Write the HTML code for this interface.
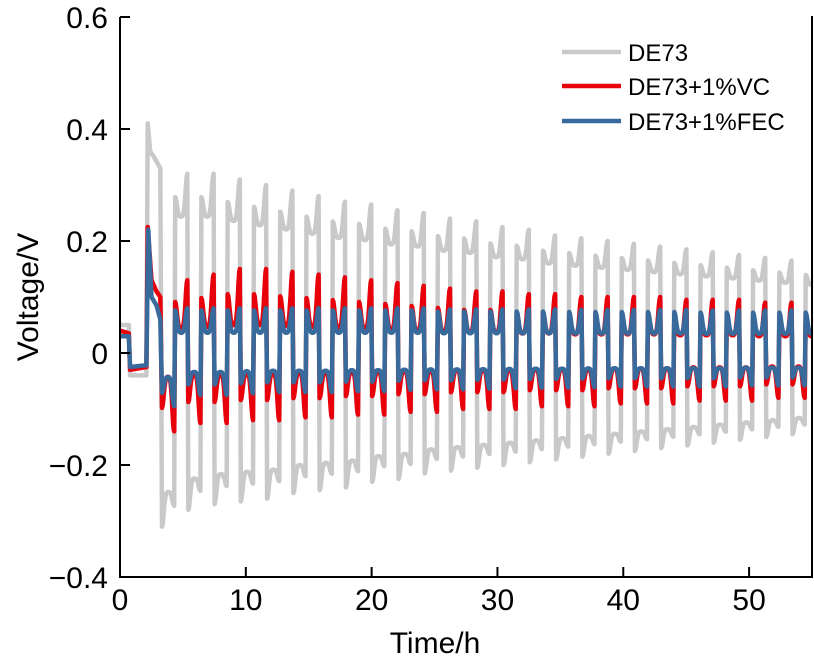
<!DOCTYPE html>
<html><head><meta charset="utf-8"><style>
body{margin:0;background:#fff;}
svg text{font-family:"Liberation Sans",Arial,sans-serif;fill:#000;}
</style></head><body>
<svg id="chart" width="814" height="662" viewBox="0 0 814 662" xmlns="http://www.w3.org/2000/svg">
<g id="series"></g>
<g id="axes"></g>
<g id="legend"></g>
</svg>
<script>
// ---- data ----
const xTicks = [0, 10, 20, 30, 40, 50];
const yTicks = [-0.4, -0.2, 0, 0.2, 0.4, 0.6];
const yTickLabels = ["\u22120.4", "\u22120.2", "0", "0.2", "0.4", "0.6"];
const seriesNames = ["DE73", "DE73+1%VC", "DE73+1%FEC"];
// pre-cycling segment: [time, voltage]
const preGray = [[0,0.05],[0.7,0.05],[0.8,-0.04],[2.1,-0.04],[2.2,0.41],[2.4,0.36],[2.7,0.35],[3.2,0.33]];
const preRed = [[0,0.04],[0.7,0.035],[0.8,-0.03],[2.1,-0.025],[2.2,0.225],[2.5,0.13],[2.9,0.11],[3.2,0.1]];
const preBlue = [[0,0.03],[0.7,0.03],[0.8,-0.025],[2.1,-0.022],[2.25,0.22],[2.5,0.1],[2.9,0.085],[3.2,0.06]];
const cycleStart = 3.3;
const cyclePeriod = 2.088;
// per-cycle peak voltages (negative half first, then positive half)
const grayPos = [0.32,0.32,0.31,0.30,0.29,0.28,0.27,0.265,0.255,0.25,0.24,0.235,0.225,0.22,0.21,0.205,0.2,0.195,0.19,0.185,0.18,0.175,0.17,0.165,0.16];
const grayNeg = [-0.31,-0.28,-0.27,-0.265,-0.26,-0.25,-0.245,-0.24,-0.23,-0.225,-0.215,-0.21,-0.205,-0.2,-0.195,-0.19,-0.185,-0.18,-0.175,-0.17,-0.165,-0.16,-0.155,-0.15,-0.145];
const redPos = [0.13,0.14,0.15,0.15,0.145,0.14,0.135,0.13,0.125,0.12,0.115,0.11,0.11,0.105,0.105,0.1,0.1,0.1,0.1,0.095,0.095,0.095,0.09,0.09,0.09];
const redNeg = [-0.14,-0.125,-0.125,-0.12,-0.12,-0.115,-0.115,-0.11,-0.11,-0.105,-0.105,-0.1,-0.1,-0.1,-0.095,-0.095,-0.095,-0.09,-0.09,-0.09,-0.085,-0.085,-0.085,-0.08,-0.08];
const bluePos = [0.08,0.08,0.08,0.08,0.08,0.08,0.08,0.08,0.08,0.08,0.078,0.078,0.078,0.078,0.078,0.077,0.077,0.077,0.077,0.077,0.076,0.076,0.076,0.076,0.076];
const blueNeg = [-0.095,-0.075,-0.075,-0.072,-0.07,-0.07,-0.07,-0.068,-0.068,-0.066,-0.065,-0.065,-0.064,-0.063,-0.062,-0.062,-0.061,-0.06,-0.06,-0.06,-0.06,-0.06,-0.058,-0.058,-0.058];

// ---- layout ----
const X0=120, X1=812, Y0=577, Y1=17;
const xMin=0,xMax=55,yMin=-0.4,yMax=0.6;
const sx=t=>X0+(t-xMin)/(xMax-xMin)*(X1-X0);
const sy=v=>Y0-(v-yMin)/(yMax-yMin)*(Y0-Y1);
const NS="http://www.w3.org/2000/svg";
function mk(tag,attrs,parent){const e=document.createElementNS(NS,tag);for(const k in attrs)e.setAttribute(k,attrs[k]);parent.appendChild(e);return e;}

const shapes = {
  gray:{neg:[1,0.8,0.88],pos:[0.87,0.76,1]},
  red:{neg:[0.7,0.3,1],pos:[0.7,0.33,1]},
  blue:{neg:[0.75,0.45,1],pos:[0.95,0.45,1]}
};
function halfPts(t0,h,peak,sh,pts){
  const n=20;
  for(let i=0;i<=n;i++){
    const u=i/n;
    const s=sh[0],p=sh[1],e=sh[2];
    const k=0.2;
    const r=p+(s-p)*Math.exp(-(u*u)/(k*k))+(e-p)*Math.exp(-((1-u)*(1-u))/(k*k));
    const t=t0+0.04+u*(h-0.08);
    if(t>xMax){return;}
    pts.push([t,peak*r]);
  }
}
function buildSeries(pre,pos,neg,sh){
  const pts=pre.slice();
  const h=cyclePeriod/2;
  for(let c=0;c<pos.length;c++){
    const tc=cycleStart+c*cyclePeriod;
    halfPts(tc,h,neg[c],sh.neg,pts);
    halfPts(tc+h,h,pos[c],sh.pos,pts);
  }
  return pts.filter(p=>p[0]<=xMax);
}
const gS=document.getElementById('series');
const defs=[
  {name:'series-de73',pts:buildSeries(preGray,grayPos,grayNeg,shapes.gray),color:'#c9c9c9'},
  {name:'series-de73-vc',pts:buildSeries(preRed,redPos,redNeg,shapes.red),color:'#e8000b'},
  {name:'series-de73-fec',pts:buildSeries(preBlue,bluePos,blueNeg,shapes.blue),color:'#386a9c'}
];
defs.forEach(d=>{
  const p=mk('path',{d:'M'+d.pts.map(q=>sx(q[0]).toFixed(1)+','+sy(q[1]).toFixed(1)).join('L'),fill:'none',stroke:d.color,'stroke-width':4.5,'stroke-linejoin':'round'},gS);
  
  
});

// ---- axes ----
const gA=document.getElementById('axes');
const ax=mk('path',{d:`M${X0},${Y1}V${Y0}H${X1}V${Y1-1}`,fill:'none',stroke:'#000','stroke-width':2},gA);


xTicks.forEach(t=>{
  const l=mk('line',{x1:sx(t),x2:sx(t),y1:Y0,y2:Y0-10,stroke:'#000','stroke-width':2},gA);
  
  
  const tx=mk('text',{x:sx(t),y:610,'font-size':30,'text-anchor':'middle'},gA);
  tx.textContent=t;
  
  
});
yTicks.forEach((v,i)=>{
  const l=mk('line',{x1:X0,x2:X0+10,y1:sy(v),y2:sy(v),stroke:'#000','stroke-width':2},gA);
  
  
  const tx=mk('text',{x:108,y:sy(v)+11,'font-size':30,'text-anchor':'end'},gA);
  tx.textContent=yTickLabels[i];
  
  
});
const xt=mk('text',{x:435,y:653,'font-size':30,'text-anchor':'middle'},gA);
xt.textContent='Time/h';


const yt=mk('text',{x:0,y:0,'font-size':30,'text-anchor':'middle',transform:'translate(38,297) rotate(-90)'},gA);
yt.textContent='Voltage/V';



// ---- legend ----
const gL=document.getElementById('legend');
const legY=[52,86,121];
defs.forEach((d,i)=>{
  const l=mk('line',{x1:562,x2:621,y1:legY[i],y2:legY[i],stroke:d.color,'stroke-width':4.5},gL);
  
  
  const tx=mk('text',{x:628,y:legY[i]+9,'font-size':24},gL);
  tx.textContent=seriesNames[i];
  
  
});
</script>
</body></html>
